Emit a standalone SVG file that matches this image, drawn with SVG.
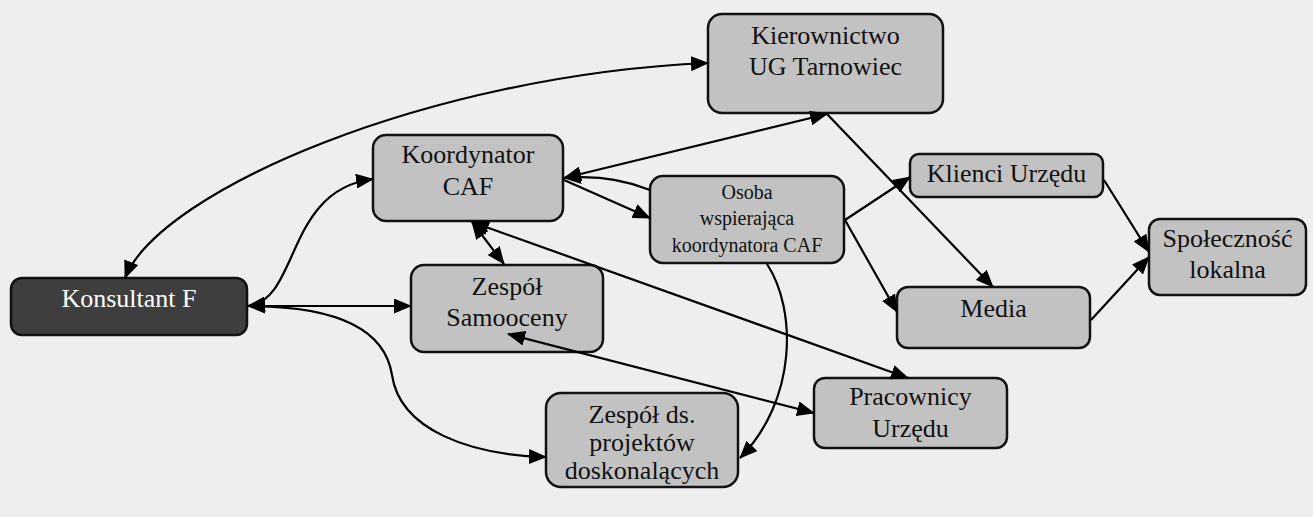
<svg xmlns="http://www.w3.org/2000/svg" width="1313" height="517" viewBox="0 0 1313 517">
<style>
.node rect{fill:#c2c2c2;stroke:#111;stroke-width:2.5}
.dark rect{fill:#3e3e3e}
text{font-family:"Liberation Serif","Times New Roman",serif;font-size:26px;fill:#111;text-anchor:middle}
.dark text{fill:#fff}
.small text{font-size:20px}
.conn path{fill:none;stroke:#000;stroke-width:2.2}
</style>
<defs>
<marker id="ah" markerUnits="userSpaceOnUse" markerWidth="19" markerHeight="15" refX="17" refY="7.5" orient="auto-start-reverse" viewBox="0 0 19 15">
<path d="M0,0 L18,7.5 L0,15 z" fill="#000"/>
</marker>
</defs>
<rect x="0" y="0" width="1313" height="517" fill="#eeeeee"/>

<g id="konsultant" class="node dark">
<rect x="11" y="278" width="236" height="57" rx="11"/>
<text x="129" y="307">Konsultant F</text>
</g>
<g id="kierownictwo" class="node">
<rect x="708" y="14" width="235" height="99" rx="14"/>
<text x="825.5" y="44">Kierownictwo</text>
<text x="825.5" y="75">UG Tarnowiec</text>
</g>
<g id="koordynator" class="node">
<rect x="373" y="135" width="190" height="86" rx="13"/>
<text x="468" y="163">Koordynator</text>
<text x="468" y="195">CAF</text>
</g>
<g id="osoba" class="node small">
<rect x="650" y="176" width="194" height="87" rx="13"/>
<text x="747" y="199">Osoba</text>
<text x="747" y="225">wspierająca</text>
<text x="747" y="252">koordynatora CAF</text>
</g>
<g id="klienci" class="node">
<rect x="910" y="154" width="193" height="43" rx="9"/>
<text x="1006.5" y="182">Klienci Urzędu</text>
</g>
<g id="spolecznosc" class="node">
<rect x="1149" y="219" width="157" height="76" rx="11"/>
<text x="1227.5" y="247">Społeczność</text>
<text x="1227.5" y="278">lokalna</text>
</g>
<g id="media" class="node">
<rect x="897" y="287" width="193" height="61" rx="11"/>
<text x="993.5" y="317">Media</text>
</g>
<g id="samooceny" class="node">
<rect x="411" y="265" width="192" height="87" rx="13"/>
<text x="507" y="295">Zespół</text>
<text x="507" y="326">Samooceny</text>
</g>
<g id="projekty" class="node">
<rect x="546" y="393" width="192" height="94" rx="15"/>
<text x="642" y="423">Zespół ds.</text>
<text x="642" y="451">projektów</text>
<text x="642" y="479">doskonalących</text>
</g>
<g id="pracownicy" class="node">
<rect x="814" y="378" width="193" height="70" rx="11"/>
<text x="910.5" y="405">Pracownicy</text>
<text x="910.5" y="437">Urzędu</text>
</g>

<g class="conn">
<path d="M125,278 C160,190 430,75 708,63" marker-start="url(#ah)" marker-end="url(#ah)"/>
<path d="M248,306 C300,300 285,190 373,179" marker-start="url(#ah)" marker-end="url(#ah)"/>
<path d="M248,306 L411,306" marker-start="url(#ah)" marker-end="url(#ah)"/>
<path d="M248,306 C340,306 385,330 392,375 C400,430 470,455 546,457" marker-end="url(#ah)"/>
<path d="M564,178 L827,114" marker-start="url(#ah)" marker-end="url(#ah)"/>
<path d="M650,190 Q610,174 564,178" marker-end="url(#ah)"/>
<path d="M564,180 L650,218" marker-end="url(#ah)"/>
<path d="M472,222 L504,264" marker-start="url(#ah)" marker-end="url(#ah)"/>
<path d="M472,222 L908,378" marker-start="url(#ah)" marker-end="url(#ah)"/>
<path d="M508,334 L814,413" marker-start="url(#ah)" marker-end="url(#ah)"/>
<path d="M767,264 C797,310 797,400 740,458" marker-end="url(#ah)"/>
<path d="M845,220 L910,177" marker-end="url(#ah)"/>
<path d="M845,220 L897,312" marker-end="url(#ah)"/>
<path d="M827,114 L993,287" marker-end="url(#ah)"/>
<path d="M1104,180 L1149,252" marker-end="url(#ah)"/>
<path d="M1091,320 L1149,257" marker-end="url(#ah)"/>
</g>
</svg>
